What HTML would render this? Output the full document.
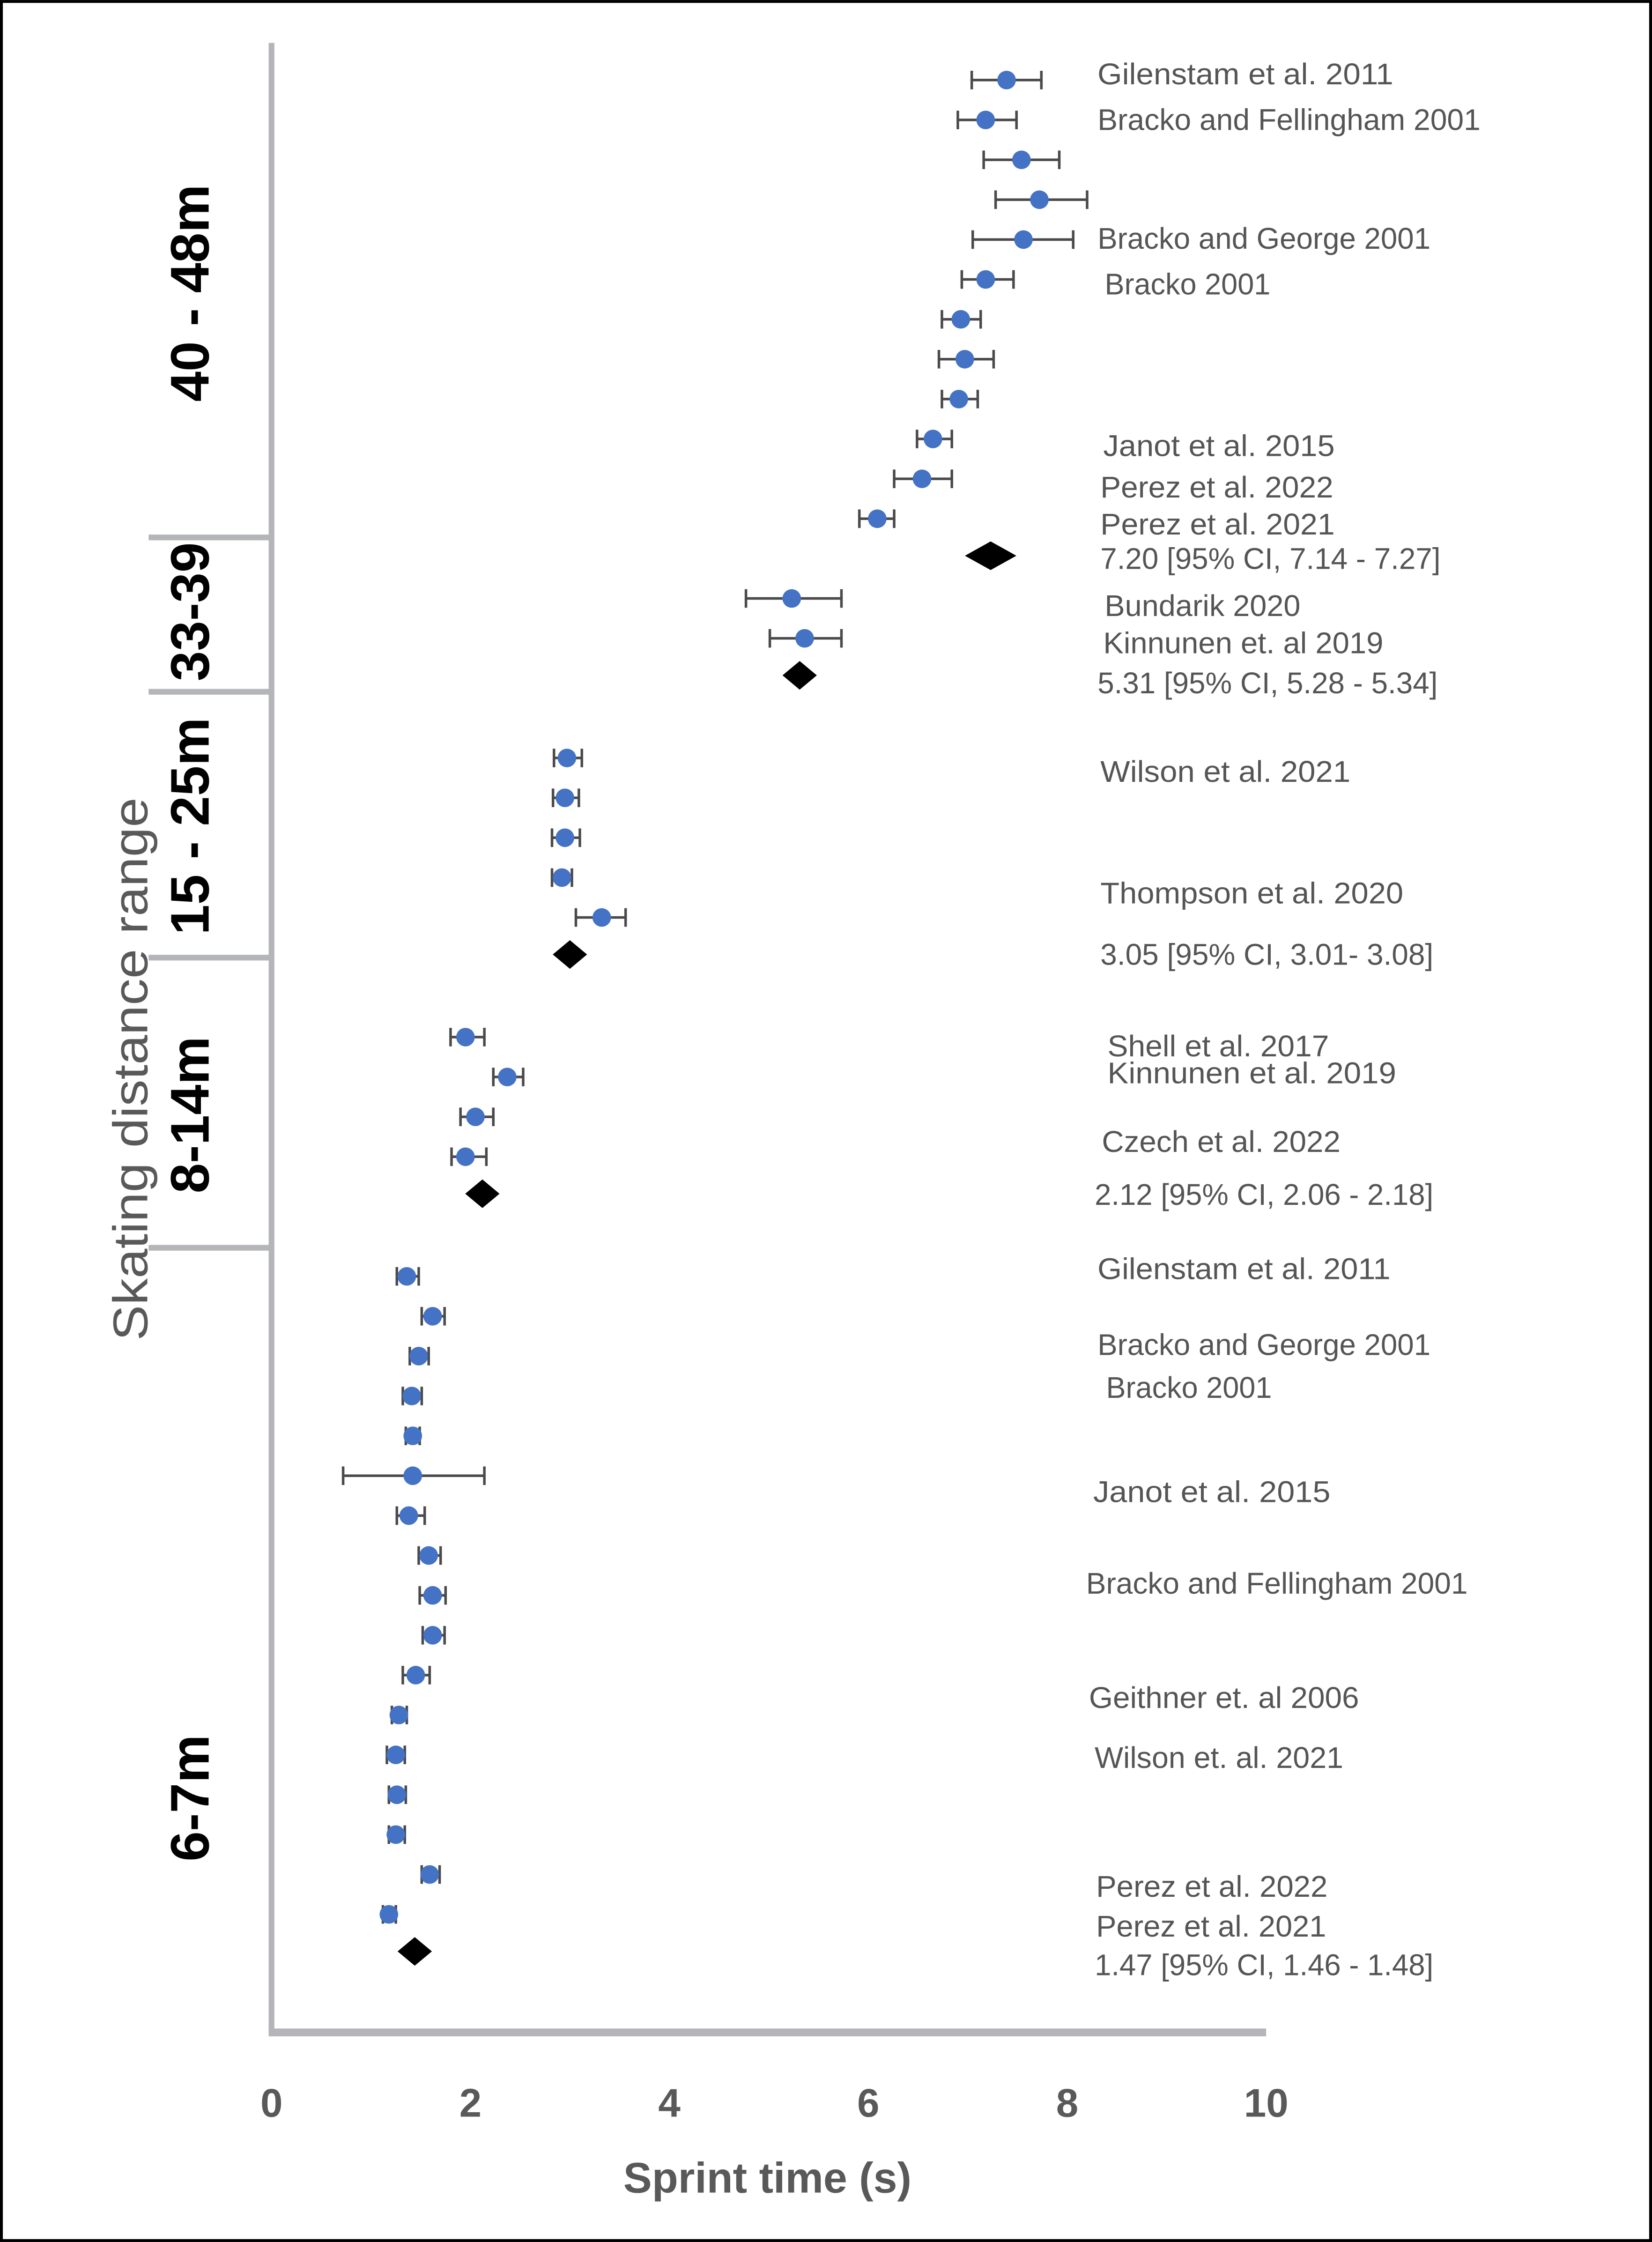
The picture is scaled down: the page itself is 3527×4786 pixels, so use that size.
<!DOCTYPE html>
<html><head><meta charset="utf-8"><style>
html,body{margin:0;padding:0;background:#fff;}
svg{display:block;}
</style></head><body>
<svg id="chart" width="3527" height="4786" viewBox="0 0 1156 1568.6" xmlns="http://www.w3.org/2000/svg">
<rect x="1" y="1" width="1154" height="1566.6" fill="#fff" stroke="#000" stroke-width="2"/>
<g id="axes"></g>
<g id="marks"></g>
<g id="labels"></g>
</svg>
<script>
// ---- data ----
const rowIndex = [0,1,2,3,4,5,6,7,8,9,10,11, 13,14, 17,18,19,20,21, 24,25,26,27, 30,31,32,33,34,35,36,37,38,39,40,41,42,43,44,45,46];
const means = [7.39,7.18,7.54,7.72,7.56,7.18,6.93,6.97,6.91,6.65,6.54,6.09, 5.23,5.36, 2.97,2.95,2.95,2.92,3.32, 1.95,2.37,2.05,1.95, 1.36,1.62,1.48,1.41,1.42,1.42,1.38,1.58,1.62,1.62,1.45,1.28,1.25,1.26,1.25,1.59,1.18];
const lower = [7.04,6.90,7.16,7.28,7.05,6.94,6.74,6.71,6.74,6.49,6.26,5.91, 4.77,5.01, 2.84,2.83,2.82,2.82,3.06, 1.80,2.23,1.90,1.81, 1.26,1.51,1.39,1.32,1.35,0.72,1.26,1.48,1.49,1.52,1.32,1.21,1.16,1.18,1.18,1.51,1.12];
const upper = [7.74,7.49,7.92,8.20,8.06,7.46,7.13,7.26,7.10,6.84,6.84,6.26, 5.73,5.73, 3.12,3.09,3.10,3.02,3.56, 2.14,2.53,2.23,2.16, 1.48,1.74,1.58,1.51,1.49,2.14,1.54,1.70,1.75,1.74,1.59,1.36,1.34,1.35,1.34,1.69,1.25];
const pooledRows = [12,15,22,28,47];
const pooledMeans = [7.23,5.31,3.00,2.12,1.44];
const xTicks = [0,2,4,6,8,10];
const groupNames = ["40 - 48m","33-39","15 - 25m","8-14m","6-7m"];
const groupCenters = [205,428,578,780,1258];
const separators = [376,484,670,873];
const labelTexts = ["Gilenstam et  al. 2011","Bracko and Fellingham 2001","Bracko and George 2001","Bracko 2001","Janot et  al. 2015","Perez et  al. 2022","Perez et  al. 2021","7.20 [95% CI, 7.14 - 7.27]","Bundarik 2020","Kinnunen et. al 2019","5.31 [95% CI, 5.28 - 5.34]","Wilson et  al. 2021","Thompson et  al. 2020","3.05 [95% CI, 3.01- 3.08]","Shell et  al. 2017","Kinnunen et  al. 2019","Czech et  al. 2022","2.12 [95% CI, 2.06 - 2.18]","Gilenstam et  al. 2011","Bracko and George 2001","Bracko 2001","Janot  et  al. 2015","Bracko and Fellingham 2001","Geithner et. al 2006","Wilson et. al. 2021","Perez et  al. 2022","Perez et  al. 2021","1.47 [95% CI, 1.46 - 1.48]"];
const labelY = [52,84,167,199,312,341,367,391,424,450,478,540,625,668,732,751,799,836,888,941,971,1044,1108,1188,1230,1320,1348,1375];
const labelX = [768,768,768,773,772,770,770,770,773,772,768,770,770,770,775,775,771,766,768,768,774,765,760,762,766,767,767,766];
const labelEnd = [975,1036,1001,889,934,933,934,1008,910,968,1006,945,982,1003,930,977,938,1003,973,1001,890,931,1027,951,940,929,928,1003];

// ---- scales ----
const X0=190, X1=886, VMAX=10;
const xs = v => X0 + (X1-X0)*v/VMAX;
const ys = i => 56 + i*27.9;
const NS="http://www.w3.org/2000/svg";
function mk(tag, parent, attrs){const e=document.createElementNS(NS,tag);for(const k in attrs)e.setAttribute(k,attrs[k]);parent.appendChild(e);return e;}
const axes=document.getElementById('axes'), marks=document.getElementById('marks'), labels=document.getElementById('labels');

let e;
e=mk('line',axes,{x1:190,y1:30,x2:190,y2:1422,stroke:'#b3b5b8','stroke-width':4});


e=mk('line',axes,{x1:188,y1:1422,x2:886,y2:1422,stroke:'#b3b5b8','stroke-width':5.5});


separators.forEach(y=>{
  e=mk('line',axes,{x1:104,y1:y,x2:190,y2:y,stroke:'#b3b5b8','stroke-width':4});
  
  
});
xTicks.forEach(t=>{
  e=mk('text',axes,{x:xs(t),y:1481,'text-anchor':'middle','font-family':'Liberation Sans, sans-serif','font-size':28,'font-weight':'bold',fill:'#595959'});
  e.textContent=t;
  
  
});
e=mk('text',axes,{x:537,y:1534,'text-anchor':'middle','font-family':'Liberation Sans, sans-serif','font-size':30,'font-weight':'bold',fill:'#595959'});
e.textContent='Sprint time (s)';


e=mk('text',axes,{x:0,y:0,transform:'translate(103,748) rotate(-90)','text-anchor':'middle','font-family':'Liberation Sans, sans-serif','font-size':34,fill:'#595959',textLength:380,lengthAdjust:'spacingAndGlyphs'});
e.textContent='Skating distance range';


groupNames.forEach((g,i)=>{
  e=mk('text',axes,{x:0,y:0,transform:`translate(${146},${groupCenters[i]}) rotate(-90)`,'text-anchor':'middle','font-family':'Liberation Sans, sans-serif','font-size':38,'font-weight':'bold',fill:'#000'});
  e.textContent=g;
  
  
});

means.forEach((m,i)=>{
  const y=ys(rowIndex[i]);
  const g=mk('g',marks,{});
  
  
  mk('line',g,{x1:xs(lower[i]),y1:y,x2:xs(upper[i]),y2:y,stroke:'#4a4a4a','stroke-width':1.8});
  mk('line',g,{x1:xs(lower[i]),y1:y-6.5,x2:xs(lower[i]),y2:y+6.5,stroke:'#4a4a4a','stroke-width':1.8});
  mk('line',g,{x1:xs(upper[i]),y1:y-6.5,x2:xs(upper[i]),y2:y+6.5,stroke:'#4a4a4a','stroke-width':1.8});
  mk('circle',g,{cx:xs(m),cy:y,r:6.5,fill:'#4472c4'});
});
pooledMeans.forEach((m,i)=>{
  const y=ys(pooledRows[i])-2, x=xs(m);
  const w = i===0?18:12, h = 10;
  e=mk('polygon',marks,{points:`${x-w},${y} ${x},${y-h} ${x+w},${y} ${x},${y+h}`,fill:'#000'});
  
  
});

labelTexts.forEach((t,i)=>{
  e=mk('text',labels,{x:labelX[i],y:labelY[i]+7,'font-family':'Liberation Sans, sans-serif','font-size':21,fill:'#555',textLength:labelEnd[i]-labelX[i],lengthAdjust:'spacingAndGlyphs'});
  e.textContent=t;
  
  
});
</script>
</body></html>
